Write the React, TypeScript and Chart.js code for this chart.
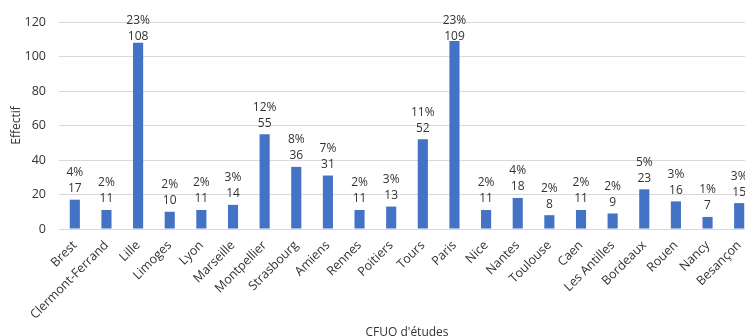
import React, { useEffect, useRef } from "react";
import { Chart, registerables } from "chart.js";

Chart.register(...registerables);

const cities = [
  "Brest", "Clermont-Ferrand", "Lille", "Limoges", "Lyon", "Marseille",
  "Montpellier", "Strasbourg", "Amiens", "Rennes", "Poitiers", "Tours",
  "Paris", "Nice", "Nantes", "Toulouse", "Caen", "Les Antilles",
  "Bordeaux", "Rouen", "Nancy", "Besançon",
];
const counts = [17, 11, 108, 10, 11, 14, 55, 36, 31, 11, 13, 52, 109, 11, 18, 8, 11, 9, 23, 16, 7, 15];
const shares = ["4%", "2%", "23%", "2%", "2%", "3%", "12%", "8%", "7%", "2%", "3%", "11%", "23%", "2%", "4%", "2%", "2%", "2%", "5%", "3%", "1%", "3%"];

const FONT = "'Open Sans', sans-serif";
const TEXT = "#333333";

// Two stacked labels above each bar: share on top, count below it.
const barLabels = {
  id: "barLabels",
  afterDatasetsDraw(chart: any) {
    const { ctx, chartArea } = chart;
    const meta = chart.getDatasetMeta(0);
    ctx.save();
    ctx.font = `12px ${FONT}`;
    ctx.fillStyle = TEXT;
    ctx.textAlign = "center";
    ctx.textBaseline = "middle";
    meta.data.forEach((bar: any, i: number) => {
      const valueY = Math.max(bar.y - 11, chartArea.top + 15);
      ctx.fillText(String(counts[i]), bar.x, valueY);
      ctx.fillText(shares[i], bar.x, valueY - 16);
    });
    ctx.restore();
  },
};

export default function App() {
  const ref = useRef<HTMLCanvasElement | null>(null);

  useEffect(() => {
    if (!ref.current) return;
    const chart = new Chart(ref.current, {
      type: "bar",
      data: {
        labels: cities,
        datasets: [
          {
            data: counts,
            backgroundColor: "#4472C4",
            borderWidth: 0,
            categoryPercentage: 1,
            barPercentage: 0.32,
          },
        ],
      },
      options: {
        responsive: false,
        animation: false,
        layout: { padding: { top: 22, left: 0, right: 0, bottom: 0 } },
        plugins: {
          legend: { display: false },
          tooltip: { enabled: false },
        },
        scales: {
          x: {
            grid: { display: false, drawTicks: false },
            border: { display: false },
            ticks: {
              color: TEXT,
              font: { family: FONT, size: 12.5 },
              minRotation: 45,
              maxRotation: 45,
              autoSkip: false,
              padding: 9,
            },
            title: {
              display: true,
              text: "CFUO d'études",
              color: TEXT,
              font: { family: FONT, size: 12 },
              padding: { top: 0, bottom: -4 },
            },
            afterFit(scale: any) {
              scale.height = 107;
              scale.paddingLeft = 0;
              scale.paddingRight = 0;
            },
          },
          y: {
            min: 0,
            max: 120,
            grid: { color: "#d9d9d9", lineWidth: 1, drawTicks: false },
            border: { display: false },
            ticks: {
              stepSize: 20,
              color: TEXT,
              font: { family: FONT, size: 12.5 },
              padding: 13,
            },
            title: {
              display: true,
              text: "Effectif",
              color: TEXT,
              font: { family: FONT, size: 12 },
              padding: { top: 9, bottom: 0 },
            },
            afterFit(scale: any) {
              scale.width = 59;
            },
          },
        },
      },
      plugins: [barLabels],
    });
    return () => chart.destroy();
  }, []);

  return (
    <div
      style={{
        position: "fixed",
        left: 0,
        top: 0,
        width: 745,
        height: 336,
        overflow: "hidden",
        background: "#fff",
      }}
    >
      <canvas ref={ref} width={755} height={336} />
    </div>
  );
}
